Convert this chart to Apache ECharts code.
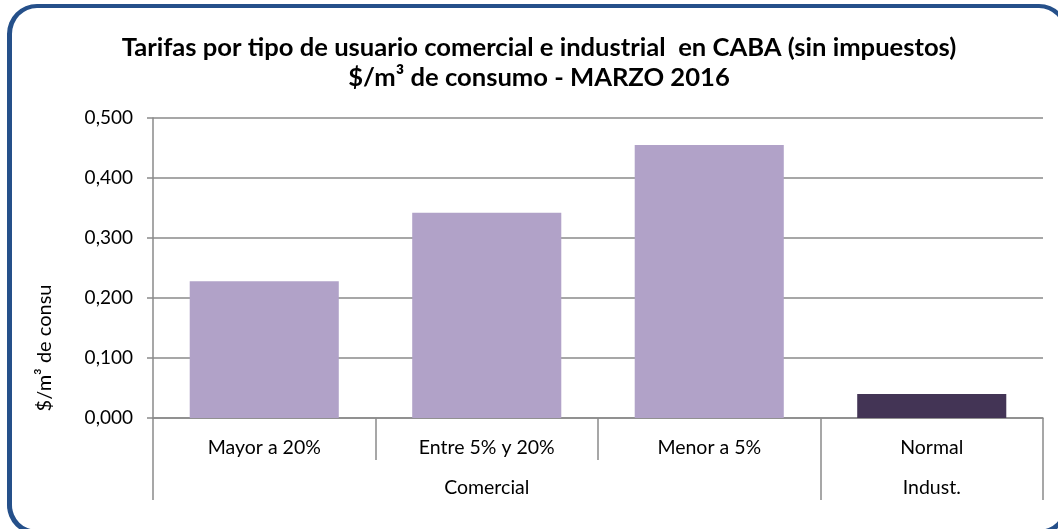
<!DOCTYPE html>
<html>
<head>
<meta charset="utf-8">
<script src="https://cdn.jsdelivr.net/npm/echarts@6/dist/echarts.min.js"></script>
<style>
  html, body { margin: 0; padding: 0; background: #fff; overflow: hidden; }
  .marco {
    position: absolute; left: 7px; top: 4px; width: 1052px; height: 522px;
    border: 5px solid #25508a; border-radius: 30px; border-top-width: 4px;
  }
  #chart { position: absolute; left: 0; top: 0; width: 1058px; height: 529px; }
</style>
</head>
<body>
<div class="marco"></div>
<div id="chart"></div>
<script>
// datos
var categorias = ["Mayor a 20%", "Entre 5% y 20%", "Menor a 5%", "Normal"];
var grupos = ["", "Comercial", "", "Indust."];
var valores = [0.228, 0.342, 0.455, 0.040];
var ticksY = [0, 0.1, 0.2, 0.3, 0.4, 0.5];

var fuente = "Lato";
var gris = "#8a8a8a";

var myChart = echarts.init(document.getElementById("chart"));
var option = {
  animation: false,
  title: {
    text: "Tarifas por tipo de usuario comercial e industrial  en CABA (sin impuestos)\n$/m³ de consumo - MARZO 2016",
    left: 534,
    top: 28,
    textAlign: "center",
    textStyle: {
      fontFamily: fuente,
      fontWeight: "bold",
      fontSize: 25.6,
      lineHeight: 30,
      color: "#000"
    }
  },
  grid: {
    left: 153,
    right: 15,
    top: 118,
    bottom: 111
  },
  yAxis: {
    type: "value",
    min: ticksY[0],
    max: ticksY[ticksY.length - 1],
    interval: 0.1,
    name: "$/m³ de consu",
    nameLocation: "middle",
    nameGap: 98,
    nameRotate: 90,
    nameTextStyle: {
      fontFamily: fuente,
      fontSize: 20,
      color: "#000",
      padding: [0, 160, 0, 0]
    },
    axisLine: { show: true, lineStyle: { color: gris, width: 1.5 } },
    axisTick: { show: true, length: 6, lineStyle: { color: gris, width: 1.5 } },
    splitLine: { lineStyle: { color: gris, width: 1.5 } },
    axisLabel: {
      margin: 20,
      fontFamily: fuente,
      fontSize: 19,
      color: "#000",
      formatter: function (v) {
        return v.toFixed(3).replace(".", ",");
      }
    }
  },
  xAxis: [
    {
      type: "category",
      data: categorias,
      axisLine: { lineStyle: { color: gris, width: 1.5 } },
      axisTick: { show: true, length: 42, lineStyle: { color: gris, width: 1.5 } },
      axisLabel: {
        margin: 20,
        interval: 0,
        fontFamily: fuente,
        fontSize: 19.5,
        color: "#000"
      }
    },
    {
      type: "category",
      position: "bottom",
      data: grupos,
      axisLine: { show: false },
      axisTick: {
        show: true,
        length: 82,
        interval: function (i) {
          return i === 0 || i === 3;
        },
        lineStyle: { color: gris, width: 1.5 }
      },
      axisLabel: {
        margin: 60,
        interval: 0,
        fontFamily: fuente,
        fontSize: 19.5,
        color: "#000"
      }
    }
  ],
  series: [
    {
      type: "bar",
      data: valores,
      xAxisIndex: 0,
      barCategoryGap: "33%",
      itemStyle: {
        color: function (p) {
          return p.dataIndex === 3 ? "#433455" : "#b1a2c8";
        }
      }
    }
  ]
};
myChart.setOption(option);
</script>
</body>
</html>
